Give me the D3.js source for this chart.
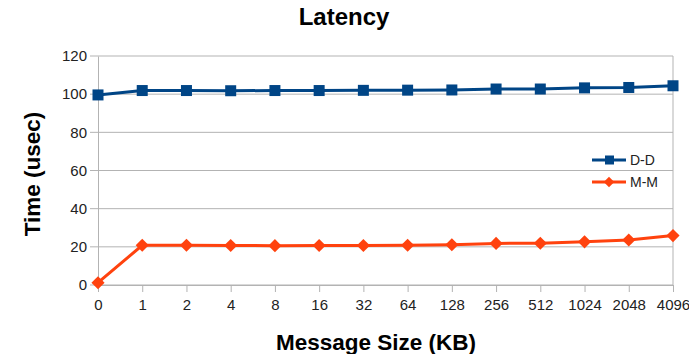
<!DOCTYPE html>
<html>
<head>
<meta charset="utf-8">
<script src="https://cdn.jsdelivr.net/npm/d3@7"></script>
<style>
body { margin: 0; background: #fff; }
text { font-family: "Liberation Sans", Arial, sans-serif; }
</style>
</head>
<body>
<div id="chart"></div>
<script>
// message sizes (KB)
var sizes = ["0", "1", "2", "4", "8", "16", "32", "64", "128", "256", "512", "1024", "2048", "4096"];
var ddValues = [99.6, 101.9, 101.9, 101.8, 101.9, 101.9, 102.0, 102.1, 102.2, 102.7, 102.7, 103.3, 103.5, 104.4];
var mmValues = [1.2, 20.8, 20.8, 20.7, 20.6, 20.7, 20.7, 20.8, 21.1, 21.8, 21.9, 22.6, 23.6, 25.9];
var yTicks = [0, 20, 40, 60, 80, 100, 120];

var width = 689, height = 354;
var margin = {top: 56, right: 16, bottom: 69, left: 98};
var w = width - margin.left - margin.right;
var h = height - margin.top - margin.bottom;

var svg = d3.select("#chart").append("svg")
    .attr("width", width)
    .attr("height", height);

var g = svg.append("g")
    .attr("transform", "translate(" + margin.left + "," + margin.top + ")");

var x = d3.scalePoint()
    .domain(sizes)
    .range([0, w]);

var y = d3.scaleLinear()
    .domain([0, 120])
    .range([h, 0]);

// gridlines
g.selectAll(".grid")
    .data(yTicks)
    .enter()
    .append("line")
    .attr("class", "grid")
    .attr("x1", -8)
    .attr("x2", w)
    .attr("y1", function(d){ return y(d); })
    .attr("y2", function(d){ return y(d); })
    .style("stroke", "#b3b3b3")
    .style("stroke-width", 1);

// right border
g.append("line")
    .attr("x1", w).attr("x2", w)
    .attr("y1", 0).attr("y2", h)
    .style("stroke", "#b3b3b3");

// y axis
var yAxis = d3.axisLeft(y).tickValues(yTicks).tickSize(0).tickPadding(11);
var yg = g.append("g").call(yAxis);
yg.select(".domain").attr("stroke", "#b3b3b3");
yg.selectAll("text").style("font-size", "15px").style("fill", "#222");

// x axis
var xAxis = d3.axisBottom(x).tickSize(7).tickPadding(7);
var xg = g.append("g")
    .attr("transform", "translate(0," + h + ")")
    .call(xAxis);
xg.select(".domain").attr("stroke", "#b3b3b3");
xg.selectAll(".tick line").attr("stroke", "#b3b3b3");
xg.selectAll("text").style("font-size", "15px").style("fill", "#222");

// lines
var line = d3.line()
    .x(function(d, i){ return x(sizes[i]); })
    .y(function(d){ return y(d); });

g.append("path")
    .datum(ddValues)
    .attr("d", line)
    .attr("fill", "none")
    .attr("stroke", "#004586")
    .attr("stroke-width", 3);

g.append("path")
    .datum(mmValues)
    .attr("d", line)
    .attr("fill", "none")
    .attr("stroke", "#ff420e")
    .attr("stroke-width", 3);

// markers
g.selectAll(".sq")
    .data(ddValues)
    .enter()
    .append("rect")
    .attr("class", "sq")
    .attr("x", function(d, i){ return x(sizes[i]) - 5.5; })
    .attr("y", function(d){ return y(d) - 5.5; })
    .attr("width", 11)
    .attr("height", 11)
    .attr("fill", "#004586");

var diamond = d3.symbol().type(d3.symbolDiamond2).size(110);
g.selectAll(".dm")
    .data(mmValues)
    .enter()
    .append("path")
    .attr("class", "dm")
    .attr("d", diamond)
    .attr("transform", function(d, i){ return "translate(" + x(sizes[i]) + "," + y(d) + ")"; })
    .attr("fill", "#ff420e");

// legend
var legend = svg.append("g").attr("transform", "translate(592,160)");
var legendItems = [
    {name: "D-D", color: "#004586", shape: "square"},
    {name: "M-M", color: "#ff420e", shape: "diamond"}
];
legendItems.forEach(function(item, i){
    var row = legend.append("g").attr("transform", "translate(0," + (i * 22) + ")");
    row.append("line")
        .attr("x1", 0).attr("x2", 34)
        .attr("y1", 0).attr("y2", 0)
        .attr("stroke", item.color)
        .attr("stroke-width", 3);
    if (item.shape == "square") {
        row.append("rect")
            .attr("x", 13).attr("y", -4.5).attr("width", 9).attr("height", 9)
            .attr("fill", item.color);
    } else {
        row.append("path")
            .attr("d", d3.symbol().type(d3.symbolDiamond2).size(70))
            .attr("transform", "translate(17,0)")
            .attr("fill", item.color);
    }
    row.append("text")
        .attr("x", 38)
        .attr("y", 5)
        .style("font-size", "14px")
        .style("fill", "#222")
        .text(item.name);
});

// titles
svg.append("text")
    .attr("x", 344)
    .attr("y", 25)
    .attr("text-anchor", "middle")
    .style("font-size", "24px")
    .style("font-weight", "bold")
    .text("Latency");

svg.append("text")
    .attr("x", 376)
    .attr("y", 350)
    .attr("text-anchor", "middle")
    .style("font-size", "22.5px")
    .style("font-weight", "bold")
    .text("Message Size (KB)");

svg.append("text")
    .attr("transform", "translate(40,174) rotate(-90)")
    .attr("text-anchor", "middle")
    .style("font-size", "22.5px")
    .style("font-weight", "bold")
    .text("Time (usec)");
</script>
</body>
</html>
